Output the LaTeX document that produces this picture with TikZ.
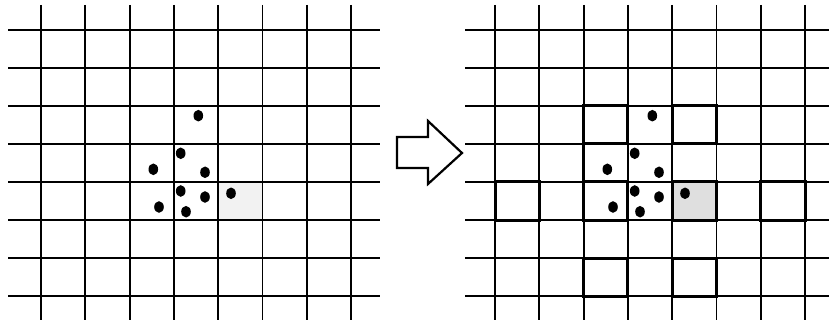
\documentclass[tikz,border=0pt]{standalone}
\begin{document}
\begin{tikzpicture}[x=1pt,y=-1pt,
  gridline/.style={line width=1.9pt,black},
  boxline/.style={line width=3.0pt,black},
  pointdot/.style={fill=black,draw=none},
  arrowline/.style={line width=2.2pt,black,line join=miter}]
\useasboundingbox (0,0) rectangle (829,323);
% shaded cells
\fill[gray!10] (218.2,182) rectangle (262.5,220);
\fill[gray!25] (672.2,182) rectangle (716.5,220);
% grids
\foreach \ox/\xa/\xb in {0/8/380, 454/465/829}{
  \foreach \i in {0,...,7}{
    \draw[gridline] ({\ox+41+44.3*\i},5) -- ({\ox+41+44.3*\i},320);
    \draw[gridline] (\xa,{30+38*\i}) -- (\xb,{30+38*\i});
  }
}
% thick boxes in right grid
\foreach \i/\j in {2/2,4/2,0/4,2/4,4/4,6/4,2/6,4/6}{
  \draw[boxline] ({454+41+44.3*\i},{30+38*\j}) rectangle ({454+41+44.3*(\i+1)},{30+38*(\j+1)});
}
\draw[boxline] ({454+41+44.3*2},144) -- ({454+41+44.3*2},182);
% points (same positions in both grids)
\foreach \x/\y in {198.3/115.7,180.7/153.3,153.3/169.3,205/172.3,180.7/191,205/197,159/207,186/211.7,231/193.3}{
  \fill[pointdot] (\x,\y) ellipse [x radius=4.8,y radius=5.8];
  \fill[pointdot] ({\x+454},\y) ellipse [x radius=4.8,y radius=5.8];
}
% arrow
\draw[arrowline] (397,137) -- (428,137) -- (428,121) -- (462,153) -- (428,184) -- (428,168) -- (397,168) -- cycle;
\end{tikzpicture}
\end{document}
